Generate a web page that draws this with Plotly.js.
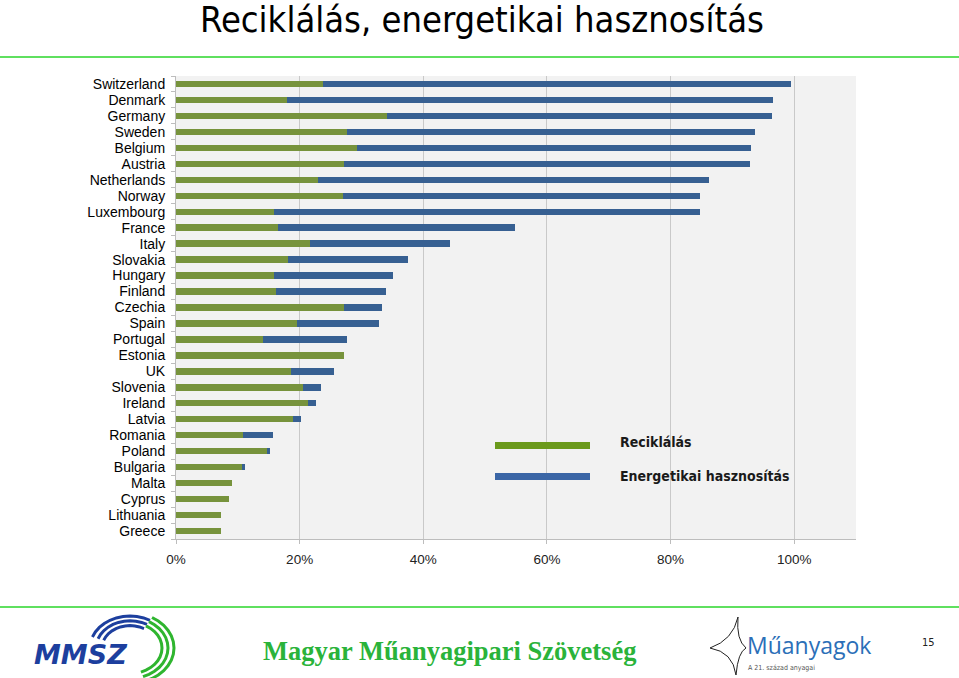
<!DOCTYPE html>
<html lang="hu">
<head>
    <meta charset="UTF-8">
    <title>Reciklálás, energetikai hasznosítás</title>
    <script src="https://cdn.plot.ly/plotly-3.0.1.min.js"></script>
    <style>
        body { margin: 0; background: #fff; }
        #chart { width: 959px; height: 678px; }
    </style>
</head>
<body>
<div id="chart"></div>
<script>
    // országok, fentről lefelé
    var countries = ['Switzerland', 'Denmark', 'Germany', 'Sweden', 'Belgium', 'Austria',
        'Netherlands', 'Norway', 'Luxembourg', 'France', 'Italy', 'Slovakia', 'Hungary',
        'Finland', 'Czechia', 'Spain', 'Portugal', 'Estonia', 'UK', 'Slovenia', 'Ireland',
        'Latvia', 'Romania', 'Poland', 'Bulgaria', 'Malta', 'Cyprus', 'Lithuania', 'Greece'];

    // Reciklálás (%)
    var recycling = [23.8, 17.9, 34.1, 27.6, 29.3, 27.1, 23.0, 27.0, 15.9, 16.5, 21.7, 18.1, 15.9,
        16.2, 27.1, 19.5, 14.0, 27.2, 18.6, 20.5, 21.4, 19.0, 10.9, 14.8, 10.7, 9.1, 8.5, 7.3, 7.3];

    // Energetikai hasznosítás (%)
    var energy = [75.7, 78.7, 62.3, 66.1, 63.7, 65.7, 63.2, 57.8, 68.8, 38.3, 22.7, 19.4, 19.2,
        17.8, 6.2, 13.3, 13.6, 0, 6.9, 2.9, 1.2, 1.3, 4.8, 0.4, 0.4, 0, 0, 0, 0];

    var xTicks = [0, 20, 40, 60, 80, 100];
    var xTickText = ['0%', '20%', '40%', '60%', '80%', '100%'];

    // pixel -> paper koordináta (plot: x 176..856, y 76..539)
    function px(x) { return (x - 176) / 680; }
    function py(y) { return (539 - y) / 463; }

    var traces = [
        {
            type: 'bar', orientation: 'h', name: 'Reciklálás',
            y: countries, x: recycling,
            marker: { color: '#77933c' },
            hoverinfo: 'y+x'
        },
        {
            type: 'bar', orientation: 'h', name: 'Energetikai hasznosítás',
            y: countries, x: energy,
            marker: { color: '#376092' },
            hoverinfo: 'y+x'
        }
    ];

    var shapes = [
        // zöld vonalak (fejléc, lábléc)
        { type: 'line', xref: 'paper', yref: 'paper', x0: px(0), x1: px(959), y0: py(57), y1: py(57),
          line: { color: '#5fe05f', width: 2 } },
        { type: 'line', xref: 'paper', yref: 'paper', x0: px(0), x1: px(959), y0: py(607), y1: py(607),
          line: { color: '#5fe05f', width: 2 } },
        // jelmagyarázat
        { type: 'rect', xref: 'paper', yref: 'paper', x0: px(495), x1: px(590), y0: py(449), y1: py(442),
          fillcolor: '#6b9a1c', line: { width: 0 } },
        { type: 'rect', xref: 'paper', yref: 'paper', x0: px(495), x1: px(590), y0: py(480), y1: py(473),
          fillcolor: '#3b66a6', line: { width: 0 } }
    ];

    // MMSZ logó ívei
    var arcs = [
        { r: 40, c: '#1d3f9e' }, { r: 34, c: '#1d3f9e' }, { r: 28, c: '#1d3f9e' },
        { r: 44, c: '#2fb52f' }, { r: 38, c: '#2fb52f' }, { r: 32, c: '#2fb52f' }
    ];
    arcs.forEach(function (a, i) {
        var cx = 130, cy = 648;
        var blue = i < 3;
        var t0 = blue ? 200 : 300, t1 = blue ? 300 : 430;
        var pts = [];
        for (var t = t0; t <= t1; t += 10) {
            var rad = t * Math.PI / 180;
            pts.push((px(cx + a.r * Math.cos(rad))).toFixed(5) + ',' + (py(cy + a.r * Math.sin(rad) * 0.8)).toFixed(5));
        }
        shapes.push({ type: 'path', xref: 'paper', yref: 'paper', path: 'M' + pts.join(' L'),
            line: { color: a.c, width: 3 } });
    });
    // Műanyagok logó csillaga
    shapes.push({ type: 'path', xref: 'paper', yref: 'paper',
        path: 'M' + px(738) + ',' + py(617) + ' Q' + px(733) + ',' + py(640) + ' ' + px(710) + ',' + py(648) +
              ' Q' + px(733) + ',' + py(652) + ' ' + px(736) + ',' + py(675) +
              ' Q' + px(738) + ',' + py(652) + ' ' + px(746) + ',' + py(648) +
              ' Q' + px(736) + ',' + py(640) + ' ' + px(738) + ',' + py(617),
        line: { color: '#222', width: 1 } });

    var annotations = [
        { text: 'Reciklálás', x: px(618), y: py(442), xanchor: 'left', yanchor: 'middle' },
        { text: 'Energetikai hasznosítás', x: px(618), y: py(476), xanchor: 'left', yanchor: 'middle' }
    ].map(function (a) {
        return Object.assign({ xref: 'paper', yref: 'paper', showarrow: false,
            font: { family: 'DejaVu Sans Condensed, DejaVu Sans', size: 14, color: '#1a1a1a', weight: 'bold' } }, a);
    });

    annotations.push(
        { text: 'Reciklálás, energetikai hasznosítás', xref: 'paper', yref: 'paper', showarrow: false,
          x: px(482), y: py(20), xanchor: 'center', yanchor: 'middle',
          font: { family: 'DejaVu Sans Condensed, DejaVu Sans', size: 36, color: '#000' } },
        { text: '<b><i>MMSZ</i></b>', xref: 'paper', yref: 'paper', showarrow: false,
          x: px(80), y: py(654), xanchor: 'center', yanchor: 'middle',
          font: { family: 'DejaVu Sans', size: 27, color: '#1d3f9e' } },
        { text: '<b>Magyar Műanyagipari Szövetség</b>', xref: 'paper', yref: 'paper', showarrow: false,
          x: px(449), y: py(651), xanchor: 'center', yanchor: 'middle',
          font: { family: 'Liberation Serif', size: 26.5, color: '#2ab33a' } },
        { text: 'Műanyagok', xref: 'paper', yref: 'paper', showarrow: false,
          x: px(745), y: py(645), xanchor: 'left', yanchor: 'middle',
          font: { family: 'Open Sans', size: 23, color: '#2b6fb8' } },
        { text: 'A 21. század anyagai', xref: 'paper', yref: 'paper', showarrow: false,
          x: px(746), y: py(668), xanchor: 'left', yanchor: 'middle',
          font: { family: 'DejaVu Sans Condensed, DejaVu Sans', size: 7, color: '#555' } },
        { text: '15', xref: 'paper', yref: 'paper', showarrow: false,
          x: px(928), y: py(642), xanchor: 'center', yanchor: 'middle',
          font: { family: 'DejaVu Sans Condensed, DejaVu Sans', size: 11, color: '#222' } }
    );

    var layout = {
        width: 959, height: 678,
        margin: { l: 176, r: 103, t: 76, b: 139 },
        paper_bgcolor: '#ffffff',
        plot_bgcolor: '#f2f2f2',
        barmode: 'stack',
        bargap: 0.6,
        showlegend: false,
        font: { family: 'Liberation Sans, Arial', size: 13, color: '#000' },
        xaxis: {
            range: [0, 110],
            tickvals: xTicks, ticktext: xTickText,
            showgrid: true, gridcolor: '#c9c9c9', gridwidth: 1,
            zeroline: false,
            showline: true, linecolor: '#bdbdbd', linewidth: 1,
            ticks: 'outside', ticklen: 4, tickcolor: '#bdbdbd',
            ticklabelstandoff: 4,
            tickfont: { family: 'Liberation Sans, Arial', size: 13.5, color: '#222' },
            fixedrange: true
        },
        yaxis: {
            type: 'category',
            autorange: 'reversed',
            tickmode: 'array', tickvals: countries, ticktext: countries,
            showline: true, linecolor: '#bdbdbd', linewidth: 1,
            ticks: 'outside', ticklen: 4, tickcolor: '#bdbdbd',
            tickson: 'boundaries',
            showgrid: false,
            ticklabelstandoff: 7,
            tickfont: { family: 'Liberation Sans, Arial', size: 14, color: '#000' },
            fixedrange: true
        },
        shapes: shapes,
        annotations: annotations
    };

    Plotly.newPlot('chart', traces, layout, { displayModeBar: false, staticPlot: true });
</script>
</body>
</html>
